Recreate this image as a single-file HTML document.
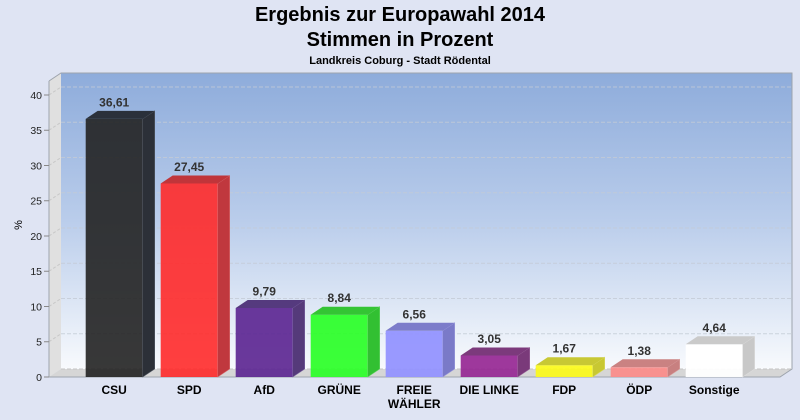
<!DOCTYPE html>
<html><head><meta charset="utf-8"><style>
html,body{margin:0;padding:0;background:#dfe4f3;}
svg{display:block;}
text{font-family:"Liberation Sans",Arial,sans-serif;}
</style></head><body>
<svg width="800" height="420" viewBox="0 0 800 420" xmlns="http://www.w3.org/2000/svg">
<defs>
<linearGradient id="wall" x1="0" y1="0" x2="0" y2="1">
<stop offset="0" stop-color="#8eacdb"/>
<stop offset="0.5" stop-color="#bacdeb"/>
<stop offset="1" stop-color="#f8fafd"/>
</linearGradient>
</defs>
<rect width="800" height="420" fill="#dfe4f3"/>
<text x="400" y="21" text-anchor="middle" font-size="20" font-weight="bold" fill="#000">Ergebnis zur Europawahl 2014</text>
<text x="400" y="46" text-anchor="middle" font-size="20" font-weight="bold" fill="#000">Stimmen in Prozent</text>
<text x="400" y="64" text-anchor="middle" font-size="11" font-weight="bold" fill="#000">Landkreis Coburg - Stadt Rödental</text>

<!-- back wall -->
<rect x="61" y="73" width="731" height="296" fill="url(#wall)"/>
<g stroke="#c4cbd6" stroke-width="1" stroke-dasharray="4,2" fill="none" opacity="0.8">
<line x1="61" y1="333.75" x2="792" y2="333.75"/>
<line x1="61" y1="298.5" x2="792" y2="298.5"/>
<line x1="61" y1="263.25" x2="792" y2="263.25"/>
<line x1="61" y1="228" x2="792" y2="228"/>
<line x1="61" y1="192.75" x2="792" y2="192.75"/>
<line x1="61" y1="157.5" x2="792" y2="157.5"/>
<line x1="61" y1="122.25" x2="792" y2="122.25"/>
<line x1="61" y1="87" x2="792" y2="87"/>
</g>
<!-- left wall -->
<polygon points="49,81 61,73 61,369 49,377" fill="#e0e0e0"/>
<g stroke="#c8c8c8" stroke-width="1" stroke-dasharray="3,2">
<line x1="49" y1="341.75" x2="61" y2="333.75"/>
<line x1="49" y1="306.5" x2="61" y2="298.5"/>
<line x1="49" y1="271.25" x2="61" y2="263.25"/>
<line x1="49" y1="236" x2="61" y2="228"/>
<line x1="49" y1="200.75" x2="61" y2="192.75"/>
<line x1="49" y1="165.5" x2="61" y2="157.5"/>
<line x1="49" y1="130.25" x2="61" y2="122.25"/>
<line x1="49" y1="95" x2="61" y2="87"/>
</g>
<!-- floor -->
<polygon points="49,377 61,369 792,369 780,377" fill="#d6d6d6"/>
<line x1="61" y1="369" x2="792" y2="369" stroke="#c4c4c4" stroke-dasharray="4,2"/>
<!-- borders -->
<g stroke="#9ea4ad" stroke-width="1" fill="none">
<polyline points="49,81 61,73 792,73 792,369 780,377 49,377 49,81"/>
</g>
<!-- ticks & labels -->
<g stroke="#888" stroke-width="1">
<line x1="44" y1="377" x2="49" y2="377"/>
<line x1="44" y1="341.75" x2="49" y2="341.75"/>
<line x1="44" y1="306.5" x2="49" y2="306.5"/>
<line x1="44" y1="271.25" x2="49" y2="271.25"/>
<line x1="44" y1="236" x2="49" y2="236"/>
<line x1="44" y1="200.75" x2="49" y2="200.75"/>
<line x1="44" y1="165.5" x2="49" y2="165.5"/>
<line x1="44" y1="130.25" x2="49" y2="130.25"/>
<line x1="44" y1="95" x2="49" y2="95"/>
</g>
<g font-size="10.5" fill="#222" text-anchor="end">
<text x="42" y="381">0</text>
<text x="42" y="345.5">5</text>
<text x="42" y="310.5">10</text>
<text x="42" y="275">15</text>
<text x="42" y="240">20</text>
<text x="42" y="204.5">25</text>
<text x="42" y="169.5">30</text>
<text x="42" y="134">35</text>
<text x="42" y="99">40</text>
</g>
<text x="0" y="0" font-size="11" fill="#000" text-anchor="middle" transform="translate(22,225) rotate(-90)">%</text>

<!-- bars -->
<g stroke-width="1">
<!-- CSU -->
<rect x="85.7" y="118.9" width="57" height="258.1" fill="#222" opacity="0.9"/>
<polygon points="142.7,118.9 154.7,110.9 154.7,369 142.7,377" fill="#2c3038" stroke="#555b66" stroke-width="0.6"/>
<polygon points="85.7,118.9 97.7,110.9 154.7,110.9 142.7,118.9" fill="#2a303a"/>
<!-- SPD -->
<rect x="160.7" y="183.5" width="57" height="193.5" fill="#ff2a2a" opacity="0.9"/>
<polygon points="217.7,183.5 229.7,175.5 229.7,369 217.7,377" fill="#c0383e" stroke="#d86a6e" stroke-width="0.6"/>
<polygon points="160.7,183.5 172.7,175.5 229.7,175.5 217.7,183.5" fill="#c0353a"/>
<!-- AfD -->
<rect x="235.7" y="308" width="57" height="69" fill="#5d2792" opacity="0.92"/>
<polygon points="292.7,308 304.7,300 304.7,369 292.7,377" fill="#553a7a" stroke="#7a64a0" stroke-width="0.6"/>
<polygon points="235.7,308 247.7,300 304.7,300 292.7,308" fill="#553a7e"/>
<!-- GRUENE -->
<rect x="310.7" y="314.7" width="57" height="62.3" fill="#2aff27" opacity="0.92"/>
<polygon points="367.7,314.7 379.7,306.7 379.7,369 367.7,377" fill="#32c032" stroke="#66d466" stroke-width="0.6"/>
<polygon points="310.7,314.7 322.7,306.7 379.7,306.7 367.7,314.7" fill="#34c434"/>
<!-- FREIE -->
<rect x="385.7" y="330.8" width="57" height="46.2" fill="#9393ff" opacity="0.95"/>
<polygon points="442.7,330.8 454.7,322.8 454.7,369 442.7,377" fill="#7a7ac8" stroke="#9c9cdc" stroke-width="0.6"/>
<polygon points="385.7,330.8 397.7,322.8 454.7,322.8 442.7,330.8" fill="#7c7cca"/>
<!-- DIE LINKE -->
<rect x="460.7" y="355.5" width="57" height="21.5" fill="#962794" opacity="0.92"/>
<polygon points="517.7,355.5 529.7,347.5 529.7,369 517.7,377" fill="#7a3a7a" stroke="#9a649a" stroke-width="0.6"/>
<polygon points="460.7,355.5 472.7,347.5 529.7,347.5 517.7,355.5" fill="#7c3a7c"/>
<!-- FDP -->
<rect x="535.7" y="365.2" width="57" height="11.8" fill="#fbfa1a" opacity="0.92"/>
<polygon points="592.7,365.2 604.7,357.2 604.7,369 592.7,377" fill="#c8c832" stroke="#dada66" stroke-width="0.6"/>
<polygon points="535.7,365.2 547.7,357.2 604.7,357.2 592.7,365.2" fill="#c8c834"/>
<!-- ÖDP -->
<rect x="610.7" y="367.3" width="57" height="9.7" fill="#fb8b89" opacity="0.92"/>
<polygon points="667.7,367.3 679.7,359.3 679.7,369 667.7,377" fill="#c88080" stroke="#daa0a0" stroke-width="0.6"/>
<polygon points="610.7,367.3 622.7,359.3 679.7,359.3 667.7,367.3" fill="#ca8282"/>
<!-- Sonstige -->
<rect x="685.7" y="344.3" width="57" height="32.7" fill="#ffffff" opacity="0.95"/>
<polygon points="742.7,344.3 754.7,336.3 754.7,369 742.7,377" fill="#c8c8c8" stroke="#dedede" stroke-width="0.6"/>
<polygon points="685.7,344.3 697.7,336.3 754.7,336.3 742.7,344.3" fill="#cacaca"/>
</g>

<!-- value labels -->
<g font-size="12" font-weight="bold" fill="#333" text-anchor="middle">
<text x="114.2" y="106.5">36,61</text>
<text x="189.2" y="171">27,45</text>
<text x="264.2" y="295.5">9,79</text>
<text x="339.2" y="302.2">8,84</text>
<text x="414.2" y="318.3">6,56</text>
<text x="489.2" y="343">3,05</text>
<text x="564.2" y="352.7">1,67</text>
<text x="639.2" y="354.8">1,38</text>
<text x="714.2" y="331.8">4,64</text>
</g>

<!-- category labels -->
<g font-size="12" font-weight="bold" fill="#000" text-anchor="middle">
<text x="114.2" y="394">CSU</text>
<text x="189.2" y="394">SPD</text>
<text x="264.2" y="394">AfD</text>
<text x="339.2" y="394">GRÜNE</text>
<text x="414.2" y="394">FREIE</text>
<text x="414.2" y="408">WÄHLER</text>
<text x="489.2" y="394">DIE LINKE</text>
<text x="564.2" y="394">FDP</text>
<text x="639.2" y="394">ÖDP</text>
<text x="714.2" y="394">Sonstige</text>
</g>
</svg>
</body></html>
